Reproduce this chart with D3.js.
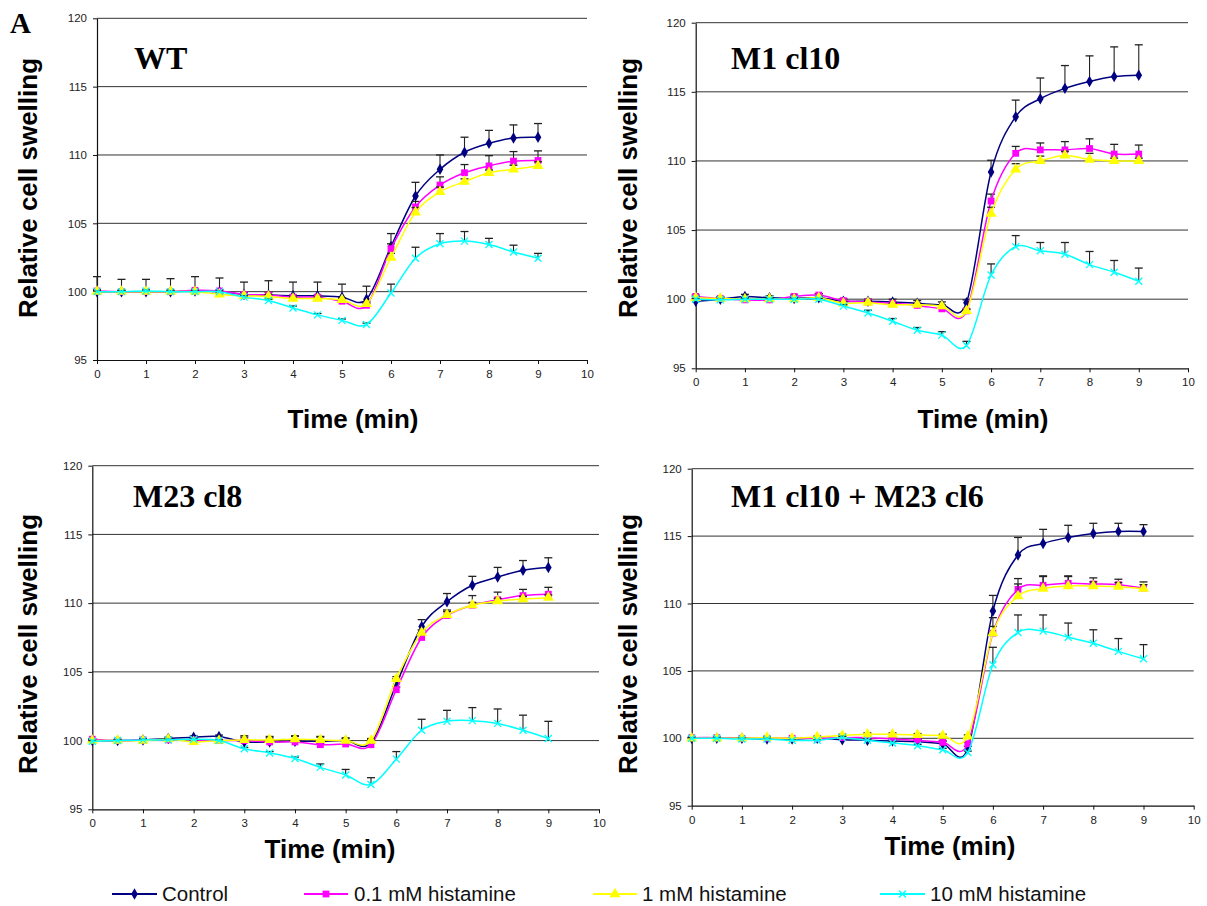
<!DOCTYPE html>
<html>
<head>
<meta charset="utf-8">
<script src="https://cdn.jsdelivr.net/npm/d3@7"></script>
<style>
  html, body { margin: 0; padding: 0; background: #fff; }
  svg { display: block; }
</style>
</head>
<body>
<svg id="chart" width="1207" height="906"></svg>
<script>
// ---------------- DATA ----------------
const times = [0, 0.5, 1, 1.5, 2, 2.5, 3, 3.5, 4, 4.5, 5, 5.5, 6, 6.5, 7, 7.5, 8, 8.5, 9];
const seriesNames = ["Control", "0.1 mM histamine", "1 mM histamine", "10 mM histamine"];
const panelTitles = ["WT", "M1 cl10", "M23 cl8", "M1 cl10 + M23 cl6"];
const xTickValues = [0, 1, 2, 3, 4, 5, 6, 7, 8, 9, 10];
const yTickValues = [95, 100, 105, 110, 115, 120];
const yAxisTitle = "Relative cell swelling";
const xAxisTitle = "Time (min)";
const figureLetter = "A";

// WT
const wtControl    = [100.0,100.0,100.0,100.0,100.05,100.0,99.8,99.75,99.7,99.7,99.6,99.45,103.3,107.0,108.95,110.2,110.85,111.25,111.3];
const wtControlErr = [1.1,0.9,0.9,0.95,1.05,1.0,0.9,1.05,1.0,1.0,0.95,0.95,0.95,1.0,1.05,1.1,0.95,0.95,1.0];
const wtHis01      = [100.05,100.0,100.0,100.0,100.1,100.05,99.8,99.75,99.6,99.6,99.3,99.0,103.15,106.2,107.8,108.7,109.2,109.55,109.6];
const wtHis01Err   = [0.1,0.1,0.1,0.1,0.1,0.1,0.15,0.2,0.15,0.15,0.2,0.15,0.35,0.4,0.6,0.6,0.75,0.7,0.7];
const wtHis1       = [100.0,100.0,100.0,100.0,100.0,99.8,99.7,99.65,99.5,99.5,99.4,99.1,102.5,105.8,107.3,108.05,108.7,108.95,109.2];
const wtHis1Err    = [0.1,0.1,0.1,0.1,0.1,0.1,0.1,0.15,0.1,0.1,0.15,0.15,0.3,0.35,0.35,0.2,0.2,0.3,0.3];
const wtHis10      = [100.0,100.0,100.05,100.0,100.0,100.0,99.6,99.35,98.8,98.3,97.9,97.6,99.9,102.45,103.5,103.7,103.45,102.9,102.45];
const wtHis10Err   = [0.05,0.05,0.05,0.05,0.05,0.05,0.1,0.1,0.15,0.1,0.1,0.1,0.65,0.8,0.75,0.7,0.45,0.5,0.35];

// M1 cl10
const m1Control    = [99.85,100.0,100.2,100.1,100.05,100.1,99.85,99.85,99.8,99.7,99.6,99.75,109.2,113.2,114.5,115.25,115.75,116.1,116.2];
const m1ControlErr = [0.2,0.15,0.15,0.15,0.15,0.3,0.15,0.15,0.2,0.2,0.2,0.2,0.85,1.2,1.5,1.65,1.85,2.15,2.2];
const m1His01      = [100.2,100.05,99.95,99.95,100.2,100.3,99.9,99.8,99.7,99.55,99.3,99.15,107.1,110.55,110.8,110.8,110.9,110.5,110.5];
const m1His01Err   = [0.1,0.1,0.1,0.1,0.1,0.1,0.1,0.1,0.1,0.1,0.1,0.15,0.5,0.5,0.5,0.6,0.7,0.7,0.65];
const m1His1       = [100.1,100.05,100.0,100.0,100.0,100.1,99.7,99.75,99.6,99.6,99.5,99.15,106.2,109.4,110.0,110.4,110.1,110.0,110.0];
const m1His1Err    = [0.1,0.1,0.1,0.1,0.1,0.1,0.1,0.1,0.1,0.1,0.1,0.1,0.45,0.4,0.35,0.3,0.45,0.2,0.2];
const m1His10      = [100.0,99.95,100.0,100.0,100.0,100.0,99.5,99.0,98.4,97.75,97.4,96.65,101.75,103.8,103.5,103.25,102.5,101.95,101.3];
const m1His10Err   = [0.05,0.05,0.05,0.05,0.05,0.05,0.1,0.2,0.2,0.2,0.25,0.3,0.8,0.8,0.6,0.85,0.95,0.85,0.95];

// M23 cl8
const m23Control    = [100.0,100.0,100.05,100.15,100.25,100.3,99.9,99.9,99.95,99.95,100.0,99.85,104.1,108.3,110.1,111.3,111.9,112.4,112.6];
const m23ControlErr = [0.1,0.1,0.1,0.1,0.1,0.1,0.45,0.4,0.4,0.35,0.2,0.3,0.4,0.5,0.6,0.65,0.7,0.7,0.7];
const m23His01      = [100.1,100.0,100.05,100.05,100.05,100.0,100.0,99.9,99.9,99.7,99.75,99.7,103.7,107.5,109.1,109.85,110.25,110.55,110.65];
const m23His01Err   = [0.05,0.05,0.05,0.05,0.05,0.05,0.1,0.1,0.1,0.1,0.1,0.1,0.2,0.3,0.4,0.7,0.55,0.45,0.5];
const m23His1       = [100.0,100.0,100.0,100.1,99.9,100.0,100.05,100.05,100.1,100.05,100.0,100.0,104.5,107.85,109.15,109.85,110.15,110.3,110.4];
const m23His1Err    = [0.05,0.05,0.05,0.05,0.05,0.05,0.2,0.15,0.2,0.2,0.15,0.1,0.15,0.2,0.25,0.2,0.2,0.2,0.2];
const m23His10      = [99.95,100.0,100.05,100.05,100.1,100.0,99.4,99.1,98.7,98.05,97.5,96.8,98.65,100.75,101.4,101.45,101.25,100.75,100.15];
const m23His10Err   = [0.05,0.05,0.05,0.05,0.05,0.05,0.1,0.1,0.1,0.25,0.4,0.5,0.55,0.8,0.8,0.95,1.05,1.1,1.25];

// M1 cl10 + M23 cl6
const dblControl    = [100.0,100.0,100.0,99.95,99.95,100.0,99.9,99.85,99.8,99.75,99.6,99.25,109.45,113.6,114.45,114.9,115.2,115.35,115.35];
const dblControlErr = [0.05,0.05,0.05,0.05,0.05,0.05,0.1,0.1,0.1,0.15,0.2,0.15,1.15,1.3,1.05,0.9,0.75,0.6,0.5];
const dblHis01      = [100.05,100.05,100.0,100.0,100.0,100.0,100.05,100.05,99.95,99.85,99.7,99.6,107.8,111.05,111.35,111.5,111.45,111.4,111.15];
const dblHis01Err   = [0.05,0.05,0.05,0.05,0.05,0.05,0.1,0.1,0.1,0.1,0.1,0.1,1.15,0.8,0.7,0.55,0.45,0.4,0.45];
const dblHis1       = [100.0,100.0,100.0,100.05,100.0,100.1,100.2,100.3,100.3,100.25,100.2,100.15,107.8,110.55,111.1,111.3,111.3,111.25,111.1];
const dblHis1Err    = [0.05,0.05,0.05,0.05,0.05,0.05,0.1,0.1,0.1,0.1,0.1,0.1,0.5,0.9,0.9,0.7,0.3,0.3,0.3];
const dblHis10      = [100.0,100.0,99.95,99.95,99.85,99.85,100.05,99.85,99.65,99.45,99.15,98.95,105.45,107.85,107.95,107.5,107.05,106.45,105.9];
const dblHis10Err   = [0.05,0.05,0.05,0.05,0.05,0.05,0.1,0.1,0.1,0.1,0.1,0.1,1.3,1.3,1.2,1.05,1.0,0.95,1.05];

// ---------------- STYLE / LAYOUT ----------------
const seriesColors = ["#000080", "#FF00FF", "#FFFF00", "#00FFFF"];
const seriesMarkers = ["diamond", "square", "triangle", "x"];

const panelData = [
  [[wtControl, wtControlErr], [wtHis01, wtHis01Err], [wtHis1, wtHis1Err], [wtHis10, wtHis10Err]],
  [[m1Control, m1ControlErr], [m1His01, m1His01Err], [m1His1, m1His1Err], [m1His10, m1His10Err]],
  [[m23Control, m23ControlErr], [m23His01, m23His01Err], [m23His1, m23His1Err], [m23His10, m23His10Err]],
  [[dblControl, dblControlErr], [dblHis01, dblHis01Err], [dblHis1, dblHis1Err], [dblHis10, dblHis10Err]]
];

const layouts = [
  {x0: 97,    x1: 587,    yTop: 18.3,  yBot: 360,   titleX: 134, titleY: 69,  yTitleX: 37,  yTitleCY: 188, xTitleCX: 353, xTitleY: 428},
  {x0: 695.7, x1: 1188,   yTop: 22.7,  yBot: 368.3, titleX: 731, titleY: 69,  yTitleX: 637, yTitleCY: 188, xTitleCX: 983, xTitleY: 428},
  {x0: 92.3,  x1: 599,    yTop: 465.7, yBot: 809.3, titleX: 133, titleY: 507, yTitleX: 37,  yTitleCY: 644, xTitleCX: 330, xTitleY: 858},
  {x0: 691.7, x1: 1193.7, yTop: 468.7, yBot: 805.7, titleX: 731, titleY: 507, yTitleX: 637, yTitleCY: 644, xTitleCX: 950, xTitleY: 855}
];

const svg = d3.select("#chart");

function markerPath(type) {
  if (type === "diamond") return d3.symbol().type(d3.symbolDiamond).size(38)();
  if (type === "square") return d3.symbol().type(d3.symbolSquare).size(46)();
  if (type === "triangle") return d3.symbol().type(d3.symbolTriangle).size(52)();
  return "M-3.5,-3.5L3.5,3.5M-3.5,3.5L3.5,-3.5";
}

function drawMarker(g, type, color, x, y) {
  const p = g.append("path").attr("d", markerPath(type)).attr("transform", `translate(${x},${y})`);
  if (type === "x") p.attr("fill", "none").attr("stroke", color).attr("stroke-width", 1.3);
  else p.attr("fill", color).attr("stroke", "none");
}

layouts.forEach((L, pi) => {
  const g = svg.append("g");
  const x = d3.scaleLinear().domain([0, 10]).range([L.x0, L.x1]);
  const y = d3.scaleLinear().domain([95, 120]).range([L.yBot, L.yTop]);

  // gridlines
  g.append("g").selectAll("line").data(yTickValues.filter(v => v > 95)).join("line")
    .attr("x1", L.x0).attr("x2", L.x1)
    .attr("y1", d => y(d)).attr("y2", d => y(d))
    .attr("stroke", "#333").attr("stroke-width", 1);

  // axes
  const xAxis = d3.axisBottom(x).tickValues(xTickValues).tickSize(4).tickSizeOuter(0).tickPadding(6)
    .tickFormat(d3.format("d"));
  const yAxis = d3.axisLeft(y).tickValues(yTickValues).tickSize(4).tickSizeOuter(0).tickPadding(6)
    .tickFormat(d3.format("d"));
  const gx = g.append("g").attr("transform", `translate(0,${L.yBot})`).call(xAxis);
  const gy = g.append("g").attr("transform", `translate(${L.x0},0)`).call(yAxis);
  [gx, gy].forEach(a => {
    a.select(".domain").attr("stroke", "#111").attr("stroke-width", 1.2);
    a.selectAll(".tick line").attr("stroke", "#111");
    a.selectAll(".tick text").attr("fill", "#222")
      .style("font-family", "Liberation Sans, Arial, sans-serif").style("font-size", "11.5px");
  });

  // series
  const line = d3.line().x(d => x(d.t)).y(d => y(d.v)).curve(d3.curveCardinal.tension(0));
  panelData[pi].forEach(([vals, errs], si) => {
    const pts = times.map((t, i) => ({t: t, v: vals[i], e: errs[i]}));
    const sg = g.append("g");
    // error bars (upper)
    pts.forEach(p => {
      const xx = x(p.t), yv = y(p.v), ye = y(p.v + p.e);
      sg.append("line").attr("x1", xx).attr("x2", xx).attr("y1", yv).attr("y2", ye)
        .attr("stroke", "#222").attr("stroke-width", 1.1);
      sg.append("line").attr("x1", xx - 4).attr("x2", xx + 4).attr("y1", ye).attr("y2", ye)
        .attr("stroke", "#222").attr("stroke-width", 1.3);
    });
    sg.append("path").datum(pts).attr("d", line)
      .attr("fill", "none").attr("stroke", seriesColors[si]).attr("stroke-width", 1.5);
    pts.forEach(p => drawMarker(sg, seriesMarkers[si], seriesColors[si], x(p.t), y(p.v)));
  });

  // panel title
  g.append("text").attr("x", L.titleX).attr("y", L.titleY).text(panelTitles[pi])
    .style("font-family", "Liberation Serif, Times New Roman, serif").style("font-weight", "bold")
    .style("font-size", "32px").attr("fill", "#000");

  // y axis title
  g.append("text").attr("transform", `translate(${L.yTitleX},${L.yTitleCY}) rotate(-90)`)
    .attr("text-anchor", "middle").text(yAxisTitle)
    .style("font-family", "Liberation Sans, Arial, sans-serif").style("font-weight", "bold")
    .style("font-size", "26px").attr("fill", "#000");

  // x axis title
  g.append("text").attr("x", L.xTitleCX).attr("y", L.xTitleY).attr("text-anchor", "middle").text(xAxisTitle)
    .style("font-family", "Liberation Sans, Arial, sans-serif").style("font-weight", "bold")
    .style("font-size", "26px").attr("fill", "#000");
});

// figure letter
svg.append("text").attr("x", 10).attr("y", 33).text(figureLetter)
  .style("font-family", "Liberation Serif, Times New Roman, serif").style("font-weight", "bold")
  .style("font-size", "29px").attr("fill", "#000");

// legend
const legendItems = [
  {lx1: 112, lx2: 157, tx: 162},
  {lx1: 304, lx2: 348, tx: 354},
  {lx1: 593, lx2: 637, tx: 642},
  {lx1: 880, lx2: 925, tx: 930}
];
const legY = 894;
legendItems.forEach((it, i) => {
  const lg = svg.append("g");
  lg.append("line").attr("x1", it.lx1).attr("x2", it.lx2).attr("y1", legY).attr("y2", legY)
    .attr("stroke", seriesColors[i]).attr("stroke-width", 1.8);
  drawMarker(lg, seriesMarkers[i], seriesColors[i], (it.lx1 + it.lx2) / 2, legY);
  lg.append("text").attr("x", it.tx).attr("y", legY + 7).text(seriesNames[i])
    .style("font-family", "Liberation Sans, Arial, sans-serif").style("font-size", "20.5px").attr("fill", "#111");
});
</script>
</body>
</html>
